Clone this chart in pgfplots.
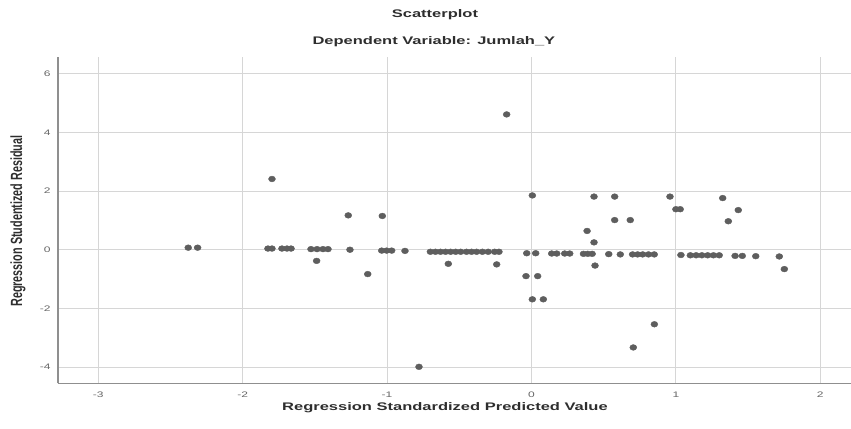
\documentclass[border=0pt]{standalone}
\usepackage{fontspec}
\usepackage{graphicx}
\usepackage{pgfplots}
\pgfplotsset{compat=1.18}
\setmainfont{Liberation Sans}
\newfontfamily\wide[FakeStretch=1.5]{Liberation Sans}
\definecolor{ptc}{HTML}{5E5E5E}
\definecolor{gridc}{HTML}{D6D6D6}
\definecolor{axc}{HTML}{8F8F8F}
\definecolor{txt}{HTML}{2E2E2E}

\pgfplotstableread{
x y
-2.377 0.07
-2.312 0.07
-1.797 2.41
-1.825 0.04
-1.797 0.04
-1.728 0.04
-1.693 0.04
-1.665 0.04
-1.527 0.02
-1.485 0.02
-1.444 0.02
-1.409 0.02
-1.488 -0.38
-1.269 1.17
-1.257 0.00
-1.134 -0.83
-1.033 1.15
-1.037 -0.03
-1.003 -0.03
-0.968 -0.03
-0.876 -0.04
-0.779 -3.99
-0.700 -0.07
-0.665 -0.07
-0.630 -0.07
-0.595 -0.07
-0.560 -0.07
-0.525 -0.07
-0.490 -0.07
-0.450 -0.07
-0.415 -0.07
-0.380 -0.07
-0.340 -0.07
-0.300 -0.07
-0.255 -0.07
-0.225 -0.07
-0.576 -0.48
-0.241 -0.50
-0.172 4.61
0.006 1.85
-0.033 -0.12
0.029 -0.12
-0.038 -0.90
0.043 -0.90
0.006 -1.69
0.082 -1.69
0.140 -0.13
0.175 -0.13
0.230 -0.13
0.265 -0.13
0.360 -0.14
0.390 -0.14
0.420 -0.14
0.385 0.64
0.433 0.25
0.440 -0.54
0.433 1.81
0.535 -0.15
0.576 1.81
0.576 1.01
0.615 -0.16
0.684 1.01
0.700 -0.16
0.735 -0.16
0.770 -0.16
0.810 -0.16
0.850 -0.16
0.705 -3.33
0.851 -2.54
0.959 1.81
1.000 1.38
1.030 1.38
1.035 -0.18
1.100 -0.19
1.140 -0.19
1.180 -0.19
1.220 -0.19
1.260 -0.19
1.300 -0.19
1.324 1.76
1.363 0.97
1.432 1.35
1.410 -0.21
1.460 -0.21
1.553 -0.22
1.716 -0.23
1.751 -0.66
}\residuals

\begin{document}
\begin{tikzpicture}
\begin{axis}[
  scale only axis,
  width=793pt, height=326.3pt,
  xmin=-3.279, xmax=2.2126,
  ymin=-4.552, ymax=6.566,
  axis x line*=bottom, axis y line*=left,
  axis line style={-, draw=axc, line width=1.2pt},
  xtick={-3,-2,-1,0,1,2},
  xticklabels={-3,-2,-1,0,1,2},
  ytick={-4,-2,0,2,4,6},
  yticklabels={-4,-2,0,2,4,6},
  major tick length=0pt,
  grid=major,
  major grid style={draw=gridc, line width=1pt},
  tick label style={font=\wide\fontsize{8}{9}\selectfont, text=black!60},
  xticklabel style={yshift=-5pt},
  yticklabel style={xshift=-4pt},
  clip=false,
]
\addplot[only marks, mark=*, mark size=2.9pt,
  mark options={fill=ptc, draw=ptc, xscale=1.2}] table {\residuals};

\node[font=\wide\bfseries\fontsize{11}{13}\selectfont, text=txt]
  at (rel axis cs:0.4754,1.1288) {Scatterplot};
\node[font=\wide\bfseries\fontsize{11}{13}\selectfont, text=txt]
  at (rel axis cs:0.4740,1.046) {Dependent Variable: Jumlah\_Y};
\node[font=\wide\bfseries\fontsize{11}{13}\selectfont, text=txt]
  at (rel axis cs:0.488,-0.0736) {Regression Standardized Predicted Value};
\node[font=\bfseries\fontsize{10.8}{13}\selectfont, text=txt, inner sep=0pt]
  at (rel axis cs:-0.0504,0.497) {\scalebox{1.5}[1]{\rotatebox{90}{Regression Studentized Residual}}};

\coordinate (bl) at (rel axis cs:-0.0731,-0.137);
\coordinate (tr) at (rel axis cs:1,1.1747);
\end{axis}
\pgfresetboundingbox
\path[use as bounding box] (bl) rectangle (tr);
\end{tikzpicture}
\end{document}
